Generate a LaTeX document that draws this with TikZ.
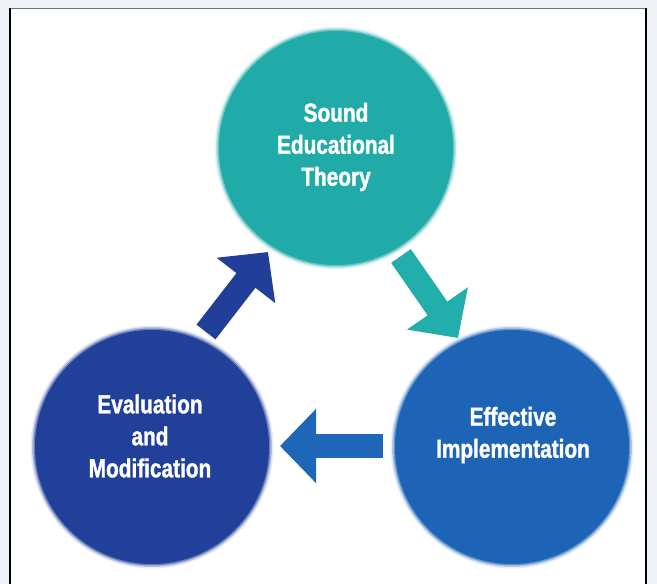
\documentclass[tikz,border=0pt]{standalone}
\usepackage{fontspec}
\setmainfont{Liberation Sans}[FakeStretch=0.80, BoldFeatures={FakeBold=1.3}]
\usetikzlibrary{arrows.meta}
\definecolor{outbg}{HTML}{EEF2F6}
\definecolor{cteal}{HTML}{20AAA8}
\definecolor{cnavy}{HTML}{21409A}
\definecolor{cblue}{HTML}{1E64B6}
\definecolor{ateal}{HTML}{22AEAA}
\definecolor{anavy}{HTML}{213F98}
\definecolor{ablue}{HTML}{1E66B8}
\begin{document}
\begin{tikzpicture}[x=1pt,y=-1pt,
  disc/.style={circle, inner sep=0pt, minimum size=234pt, fill=#1},
  lbl/.style={text=white, font=\bfseries\fontsize{26}{32}\selectfont, align=center, inner sep=0pt},
  blockarrow/.style={line width=24pt, draw=#1, -{Triangle[length=36pt,width=72pt,fill=#1]}}]
\useasboundingbox (0,0) rectangle (657,584);
\fill[outbg] (0,0) rectangle (657,584);
\fill[white] (10,8) rectangle (646,584);
\draw[black!55, line width=1.5pt] (10,8.5) -- (646,8.5);
\draw[black, line width=2.5pt] (10,584) -- (10,8);
\draw[black, line width=2.5pt] (646,8) -- (646,584);
% soft blurred rim around discs
\foreach \cx/\cy/\cc in {336/148/cteal, 152/447/cnavy, 512/447/cblue}{
  \fill[\cc, opacity=0.10] (\cx,\cy) circle[radius=121.5];
  \fill[\cc, opacity=0.25] (\cx,\cy) circle[radius=120];
  \fill[\cc, opacity=0.50] (\cx,\cy) circle[radius=118.5];
}
\node[disc=cteal] (theory) at (336,148) {};
\node[disc=cnavy] (evaluation) at (152,447) {};
\node[disc=cblue] (implementation) at (512,447) {};
\node[lbl] (theorytext) at (336,147) {Sound\\Educational\\Theory};
\node[lbl] (evaltext) at (150,436) {Evaluation\\and\\Modification};
\node[lbl] (impltext) at (513,435) {Effective\\Implementation};
% arrows
\coordinate (a1s) at (206,332);
\coordinate (a1e) at (268,252);
\coordinate (a2s) at (401,256);
\coordinate (a2e) at (458,338);
\coordinate (a3s) at (383,446);
\coordinate (a3e) at (280,446);
\draw[blockarrow=anavy] (a1s) -- (a1e);
\draw[blockarrow=ateal] (a2s) -- (a2e);
\draw[blockarrow=ablue] (a3s) -- (a3e);
\end{tikzpicture}
\end{document}
